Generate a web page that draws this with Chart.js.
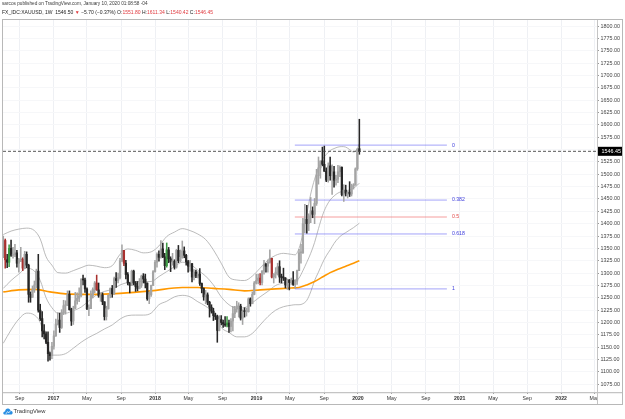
<!DOCTYPE html>
<html><head><meta charset="utf-8">
<script src="https://cdn.jsdelivr.net/npm/chart.js@4.4.1/dist/chart.umd.min.js"></script>
<style>
html,body{margin:0;padding:0;background:#fff;width:625px;height:419px;overflow:hidden;}
#wrap{position:relative;width:625px;height:419px;}
canvas{position:absolute;left:0;top:0;}
.t{position:absolute;white-space:nowrap;font-family:'Liberation Sans',Arial,sans-serif;line-height:1;}
.r{color:#e0393e;}
</style></head><body>
<div id="wrap">
<canvas id="c" width="625" height="419"></canvas>
<div class="t" id="h1" style="left:2px;top:2px;font-size:6px;color:#3a3a3a">sarcos published on TradingView.com, January 10, 2020 01:08:58 -04</div>
<div class="t" id="h2" style="left:2px;top:9.6px;font-size:6px;color:#222">FX_IDC:XAUUSD, 1W&nbsp; 1546.50 <span class="r">▼</span> −5.70 (−0.37%) O:<span class="r">1551.80</span> H:<span class="r">1611.34</span> L:<span class="r">1540.42</span> C:<span class="r">1546.45</span></div>
<svg style="position:absolute;left:3px;top:407px" width="10" height="8" viewBox="0 0 10 8"><path d="M2.2 7.5 C0.6 7.5 0 6.4 0.4 5.4 C0.7 4.6 1.5 4.3 2.1 4.4 C2.2 2.6 3.6 1.4 5.1 1.6 C6.4 1.7 7.3 2.7 7.5 3.8 C8.9 3.8 9.8 4.8 9.6 6 C9.4 7 8.7 7.5 7.8 7.5 Z" fill="#2a8fe3"/><path d="M3 6.8 L4.6 4.6 L5.8 5.8 L7.4 3.9" stroke="#fff" stroke-width="0.8" fill="none"/></svg>
<div class="t" id="ft" style="left:13.5px;top:408.5px;font-size:6px;color:#333">TradingView</div>
</div>
<script>
// ---------- DATA ----------
const firstWeekDate = '2016-07-04';   // open date of the first weekly candle
const opens = [
 1340,1366,1327,1322,1350,1336,1337,1341,1320,1327,
 1328,1310,1338,1316,1257,1251,1266,1276,1304,1225,
 1208,1183,1177,1160,1137,1133,1152,1173,1197,1205,
 1190,1220,1234,1236,1257,1226,1203,1229,1244,1249,
 1254,1287,1286,1268,1228,1228,1255,1267,1280,1266,
 1254,1256,1242,1212,1228,1255,1269,1258,1289,1285,
 1291,1325,1346,1320,1297,1280,1275,1304,1280,1273,
 1269,1275,1294,1288,1280,1248,1256,1275,1303,1322,
 1338,1332,1349,1333,1315,1347,1329,1323,1324,1312,
 1346,1325,1332,1345,1336,1323,1314,1319,1292,1302,
 1294,1298,1279,1269,1252,1256,1241,1231,1223,1214,
 1212,1184,1206,1200,1197,1195,1199,1192,1203,1218,
 1227,1233,1233,1209,1223,1222,1222,1248,1238,1257,
 1280,1285,1290,1281,1304,1318,1314,1322,1330,1292,
 1298,1302,1313,1292,1291,1290,1276,1286,1281,1285,
 1277,1284,1305,1341,1341,1400,1409,1400,1416,1426,
 1419,1441,1497,1513,1527,1520,1506,1488,1517,1497,
 1505,1488,1490,1505,1514,1459,1468,1462,1464,1460,
 1476,1478,1511,1551.80];
const highs = [
 1375,1369,1338,1357,1367,1352,1358,1346,1330,1352,
 1331,1344,1343,1318,1262,1274,1284,1308,1338,1237,
 1222,1196,1181,1181,1140,1160,1183,1207,1220,1219,
 1226,1245,1244,1264,1264,1229,1233,1261,1260,1270,
 1289,1296,1290,1270,1236,1264,1270,1283,1296,1280,
 1260,1260,1242,1233,1256,1270,1275,1292,1301,1300,
 1330,1357,1346,1326,1301,1281,1306,1306,1283,1283,
 1289,1296,1299,1298,1280,1262,1276,1305,1326,1341,
 1345,1366,1361,1340,1361,1352,1333,1340,1327,1348,
 1356,1347,1365,1353,1338,1326,1326,1320,1307,1306,
 1303,1309,1280,1270,1265,1260,1243,1236,1229,1219,
 1215,1214,1214,1205,1212,1212,1205,1208,1233,1233,
 1243,1240,1237,1226,1230,1229,1250,1250,1262,1283,
 1298,1298,1299,1305,1326,1320,1327,1347,1330,1299,
 1311,1320,1325,1298,1310,1291,1288,1287,1290,1303,
 1287,1306,1348,1358,1411,1439,1437,1420,1453,1434,
 1451,1510,1535,1527,1555,1557,1513,1523,1535,1519,
 1516,1498,1518,1517,1515,1479,1478,1465,1485,1480,
 1481,1513,1552,1611.34];
const lows = [
 1331,1310,1311,1313,1334,1330,1333,1312,1302,1323,
 1305,1309,1311,1241,1241,1251,1261,1270,1221,1204,
 1171,1167,1157,1122,1124,1127,1146,1172,1195,1180,
 1188,1216,1217,1234,1225,1194,1196,1228,1237,1242,
 1252,1276,1261,1226,1214,1228,1250,1260,1265,1251,
 1243,1236,1205,1205,1227,1250,1251,1257,1271,1280,
 1288,1323,1315,1288,1276,1260,1275,1276,1263,1264,
 1268,1271,1280,1270,1245,1238,1253,1275,1302,1312,
 1324,1330,1331,1307,1312,1321,1303,1316,1308,1310,
 1321,1323,1330,1331,1316,1302,1304,1282,1286,1291,
 1290,1275,1260,1245,1238,1236,1211,1219,1204,1206,
 1160,1183,1195,1190,1192,1191,1180,1181,1183,1210,
 1221,1211,1205,1196,1211,1213,1221,1233,1238,1256,
 1278,1278,1276,1276,1298,1302,1302,1320,1290,1280,
 1290,1296,1281,1280,1285,1270,1267,1266,1277,1275,
 1269,1277,1305,1320,1340,1382,1381,1386,1402,1412,
 1400,1437,1480,1492,1517,1506,1485,1484,1488,1459,
 1474,1478,1483,1495,1456,1445,1456,1452,1455,1456,
 1470,1478,1508,1540.42];
const closes = [
 1366,1327,1322,1350,1336,1336,1341,1320,1327,1328,
 1310,1338,1316,1257,1251,1266,1276,1304,1225,1208,
 1183,1177,1160,1137,1133,1152,1173,1197,1205,1190,
 1220,1234,1236,1257,1226,1203,1229,1244,1249,1254,
 1287,1286,1268,1228,1228,1255,1267,1280,1266,1254,
 1256,1242,1212,1228,1255,1269,1258,1289,1285,1291,
 1325,1346,1320,1297,1280,1275,1304,1280,1273,1269,
 1275,1294,1288,1280,1248,1256,1275,1303,1322,1338,
 1332,1349,1333,1315,1347,1329,1323,1324,1312,1346,
 1325,1332,1345,1336,1323,1314,1319,1292,1302,1294,
 1298,1279,1269,1252,1256,1241,1231,1223,1214,1212,
 1184,1206,1200,1197,1195,1199,1192,1203,1218,1227,
 1233,1233,1209,1223,1222,1222,1248,1238,1257,1280,
 1285,1290,1281,1304,1318,1314,1322,1330,1292,1298,
 1302,1313,1292,1291,1290,1276,1286,1281,1285,1277,
 1284,1305,1341,1341,1400,1409,1400,1416,1426,1419,
 1441,1497,1513,1527,1520,1506,1488,1517,1497,1505,
 1488,1490,1505,1514,1459,1468,1462,1464,1460,1476,
 1478,1511,1551,1546.45];
const redWeeks = [1, 10, 48, 62, 132, 138];
const greenWeeks = [3, 84, 115];

// indicator bands (week index)
const bandWeeks = [0,4,8,12,16,19,22,25,28,32,36,40,44,48,52,56,60,64,68,72,76,80,84,88,92,96,100,104,108,112,116,120,124,128,132,136,140,144,148,150,152,154,156,158,160,162,164,166,168,170,172,174,176,178,180,182,183];
const bandUpper = [1378,1385,1389,1391,1386,1369,1333,1316,1301,1300,1305,1311,1316,1314,1311,1315,1338,1349,1346,1341,1343,1355,1374,1383,1390,1386,1379,1368,1347,1320,1292,1286,1285,1294,1310,1326,1336,1340,1338,1337,1350,1380,1420,1460,1490,1512,1530,1540,1548,1552,1555,1556,1555,1550,1545,1552,1562];
const bandMiddle = [1269,1285,1298,1310,1304,1285,1250,1230,1219,1219,1224,1231,1244,1256,1263,1267,1276,1281,1283,1283,1283,1293,1303,1313,1322,1318,1306,1294,1276,1252,1236,1229,1230,1240,1252,1263,1275,1280,1282,1283,1290,1305,1322,1340,1362,1390,1416,1435,1448,1456,1462,1465,1467,1468,1472,1478,1482];
const bandLower = [1158,1185,1207,1219,1215,1200,1160,1134,1134,1137,1148,1160,1170,1178,1187,1195,1207,1214,1215,1215,1219,1236,1243,1252,1255,1252,1242,1233,1219,1190,1180,1171,1171,1178,1195,1212,1225,1232,1235,1236,1236,1238,1245,1262,1285,1302,1320,1335,1347,1360,1370,1377,1382,1387,1392,1398,1401];
const maWeeks = [0,8,16,24,32,44,60,76,92,100,108,116,124,132,140,148,152,156,160,164,168,172,176,180,183];
const maValues = [1262,1266,1267,1262,1258,1257,1259,1264,1271,1271,1269,1267,1264,1266,1268,1270,1271,1276,1283,1292,1301,1308,1314,1320,1325];

// Fibonacci retracement
const fibLabels = ['0','0.382','0.5','0.618','1'];
const fibPrices = [1559, 1447.8, 1413.5, 1379.2, 1268];
const fibStart = '2019-05-19', fibEnd = '2020-11-16';

// axes
const priceTicks = [1075,1100,1125,1150,1175,1200,1225,1250,1275,1300,1325,1350,1375,1400,1425,1450,1475,1500,1525,1550,1575,1600,1625,1650,1675,1700,1725,1750,1775,1800];
const timeTickDates = ['2016-09-01','2017-01-01','2017-05-01','2017-09-01','2018-01-01','2018-05-01','2018-09-01','2019-01-01','2019-05-01','2019-09-01','2020-01-01','2020-05-01','2020-09-01','2021-01-01','2021-05-01','2021-09-01','2022-01-01','2022-05-01'];
const timeTickLabels = ['Sep','2017','May','Sep','2018','May','Sep','2019','May','Sep','2020','May','Sep','2021','May','Sep','2022','May'];
const xRange = ['2016-07-03','2022-05-10'];
const yRange = [1059.4, 1814.2];

// ---------- BUILD ----------
const WEEK = 7*86400000;
const t0 = Date.parse(firstWeekDate);
const wt = i => t0 + i*WEEK;
const n = closes.length;
const idx = [...Array(n).keys()];
const upC = '#a4a4a4', dnC = '#262626', redC = '#a8302e', greenC = '#3e9b45';
const colorFor = i => redWeeks.includes(i) ? redC : greenWeeks.includes(i) ? greenC : (closes[i] >= opens[i] ? upC : dnC);
const colors = idx.map(colorFor);
const lastClose = closes[n-1];
const xMin = Date.parse(xRange[0]), xMax = Date.parse(xRange[1]);
const FONT = "'Liberation Sans', Arial, sans-serif";
Chart.defaults.font.family = FONT;

const lineDs = (label, weeks, vals, color, width, order) => ({
  type:'line', label, data: weeks.map((w,k)=>({x: wt(w), y: vals[k]})),
  borderColor: color, borderWidth: width, pointRadius: 0, cubicInterpolationMode:'monotone', order
});
const fibDs = fibPrices.map((p,k)=>({
  type:'line', label:'fib '+fibLabels[k],
  data:[{x:Date.parse(fibStart), y:p},{x:Date.parse(fibEnd), y:p}],
  borderColor: fibLabels[k]==='0.5' ? 'rgba(240,110,110,0.75)' : 'rgba(110,110,245,0.7)',
  borderWidth: 0.9, pointRadius: 0, order: 3
}));

const deco = {
  id:'deco',
  afterDraw(chart){
    const {ctx, scales:{x, y}} = chart;
    ctx.save();
    // cover clipped corner under price axis
    ctx.fillStyle = '#fff'; ctx.fillRect(598, 393, 24, 11);
    ctx.strokeStyle = '#c4c4c4'; ctx.lineWidth = 1;
    ctx.beginPath(); ctx.moveTo(597.5, 19); ctx.lineTo(597.5, 404); ctx.stroke();
    ctx.lineWidth = 1.4;
    ctx.beginPath(); ctx.moveTo(2, 392.6); ctx.lineTo(622, 392.6); ctx.stroke();
    // fib labels
    ctx.font = '5.2px ' + FONT; ctx.textBaseline = 'middle'; ctx.textAlign = 'left';
    fibPrices.forEach((p,k)=>{
      ctx.fillStyle = fibLabels[k]==='0.5' ? '#e24a4a' : '#3b3bdc';
      ctx.fillText(fibLabels[k], x.getPixelForValue(Date.parse(fibEnd)) + 5, y.getPixelForValue(p));
    });
    // last price badge
    const py = y.getPixelForValue(lastClose);
    ctx.fillStyle = '#000'; ctx.fillRect(598, py - 4.5, 24, 9);
    ctx.fillStyle = '#fff'; ctx.font = '5.4px ' + FONT;
    ctx.fillText(lastClose.toFixed(2), 601.5, py + 0.3);
    // frame
    ctx.strokeStyle = '#b8b8b8'; ctx.lineWidth = 1;
    ctx.strokeRect(2.5, 19.5, 620, 385);
    ctx.restore();
  }
};

new Chart(document.getElementById('c'), {
  type: 'bar',
  data: { datasets: [
    { type:'line', label:'last', data:[{x:xMin,y:lastClose},{x:xMax,y:lastClose}], borderColor:'#444', borderWidth:0.9, borderDash:[3,2], pointRadius:0, order:0 },
    { type:'bar', label:'body', data: idx.map(i=>({x: wt(i), y:[opens[i], closes[i]]})), backgroundColor: colors, barThickness: 1.6, minBarLength: 1, grouped:false, borderWidth:0, order:1 },
    { type:'bar', label:'wick', data: idx.map(i=>({x: wt(i), y:[lows[i], highs[i]]})), backgroundColor: colors, barThickness: 0.9, grouped:false, borderWidth:0, order:2 },
    ...fibDs,
    lineDs('MA', maWeeks, maValues, '#ff9800', 1.6, 4),
    lineDs('upper', bandWeeks, bandUpper, '#a9a9a9', 0.8, 5),
    lineDs('middle', bandWeeks, bandMiddle, '#a9a9a9', 0.8, 5),
    lineDs('lower', bandWeeks, bandLower, '#a9a9a9', 0.8, 5)
  ]},
  options: {
    responsive:false, animation:false, devicePixelRatio:1,
    layout:{ padding:{ left:3, top:19, right:3, bottom:15 } },
    plugins:{ legend:{display:false}, tooltip:{enabled:false} },
    scales:{
      x:{ type:'linear', min:xMin, max:xMax, offset:false,
        afterBuildTicks: s => { s.ticks = timeTickDates.map(d=>({value: Date.parse(d)})); },
        afterFit: s => { s.height = 12; },
        ticks:{ autoSkip:false, maxRotation:0, padding:1.5, color:'#333',
          callback:(v,i)=>timeTickLabels[i],
          font: c => ({ family: FONT, size: 5.2, weight: /^\d{4}$/.test(timeTickLabels[c.index]) ? 'bold' : 'normal' }) },
        grid:{ color:'#eef0f4', lineWidth:1, offset:false, tickColor:'#9a9a9a', tickLength:2 },
        border:{ display:false }
      },
      y:{ type:'linear', position:'right', min:yRange[0], max:yRange[1],
        afterBuildTicks: s => { s.ticks = priceTicks.map(v=>({value:v})); },
        afterFit: s => { s.width = 25; },
        ticks:{ autoSkip:false, padding:1.5, color:'#444', font:{ family: FONT, size:5.4 }, callback: v => Number(v).toFixed(2) },
        grid:{ color:'#f6f7f9', lineWidth:1, tickColor:'#9a9a9a', tickLength:2 },
        border:{ display:false }
      }
    }
  },
  plugins:[deco]
});

// fit header/footer text to their measured widths in the reference
function fitWidth(id, target){
  const el = document.getElementById(id);
  const w = el.getBoundingClientRect().width;
  const fs = parseFloat(el.style.fontSize);
  el.style.fontSize = (fs * target / w).toFixed(2) + 'px';
}
fitWidth('h1', 146); fitWidth('h2', 211); fitWidth('ft', 32);
</script>
</body></html>
